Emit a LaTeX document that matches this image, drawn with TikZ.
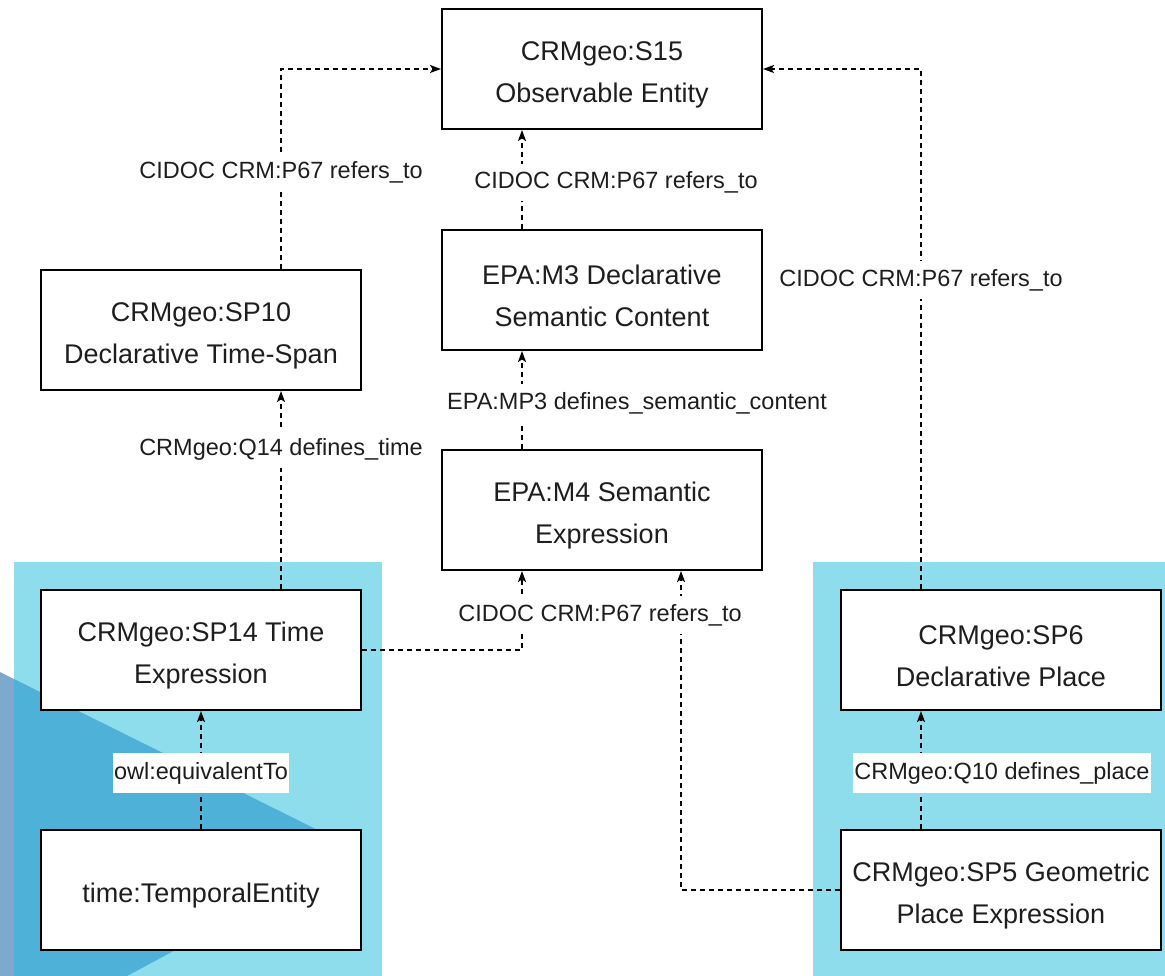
\documentclass[tikz,border=0pt]{standalone}
\usepackage{fontspec}
\setmainfont{Liberation Sans}
\usetikzlibrary{arrows.meta}
\definecolor{bglight}{HTML}{8EDDEC}
\definecolor{bgdark}{HTML}{4EB1D7}
\definecolor{bggrey}{HTML}{7DA9CF}
\definecolor{txt}{HTML}{1E1E1E}
\tikzset{
  cls/.style={draw=black, line width=2pt, fill=white, minimum width=320pt, minimum height=120pt,
    inner sep=0pt},
  clstext/.style={align=center, inner sep=0pt, text=txt, yshift=-6pt,
    font=\fontsize{27pt}{42pt}\selectfont},
  rel/.style={draw=black, line width=1.5pt, dash pattern=on 5pt off 4pt,
    -{Stealth[length=11pt,width=8pt,inset=2.5pt]}},
  lbl/.style={fill=white, text=txt, inner xsep=1pt, inner ysep=8pt, yshift=-3pt,
    font=\fontsize{23.5pt}{28pt}\selectfont, solid}
}
\begin{document}
\begin{tikzpicture}[x=1pt,y=-1pt]
\useasboundingbox (0,0) rectangle (1165,976);
% backgrounds
\fill[bggrey] (0,672) -- (14,679) -- (14,976) -- (0,976) -- cycle;
\fill[bglight] (14,562) rectangle (382,976);
\fill[bgdark] (14,679) -- (360,851) -- (127,976) -- (14,976) -- cycle;
\fill[bglight] (813,562) rectangle (1165,976);
% classes
\node[cls, label={[clstext]center:{CRMgeo:S15\\Observable Entity}}] (s15) at (602,69) {};
\node[cls, label={[clstext]center:{EPA:M3 Declarative\\Semantic Content}}] (m3) at (602,290) {};
\node[cls, label={[clstext]center:{CRMgeo:SP10\\Declarative Time-Span}}] (sp10) at (201,330) {};
\node[cls, label={[clstext]center:{EPA:M4 Semantic\\Expression}}] (m4) at (602,510) {};
\node[cls, label={[clstext]center:{CRMgeo:SP14 Time\\Expression}}] (sp14) at (201,650) {};
\node[cls, label={[clstext]center:{CRMgeo:SP6\\Declarative Place}}] (sp6) at (1001,650) {};
\node[cls, label={[clstext]center:{time:TemporalEntity}}] (te) at (201,890) {};
\node[cls, label={[clstext]center:{CRMgeo:SP5 Geometric\\Place Expression}}] (sp5) at (1001,890) {};
% relations
\draw[rel] (sp5.west) -| ([xshift=79pt]m4.south);
\draw[rel] (sp14.east) -| ([xshift=-80pt]m4.south)
  node[lbl, pos=0.74, xshift=78pt] {CIDOC CRM:P67 refers\_to};
\draw[rel] ([xshift=80pt]sp10.north) |- (s15.west)
  node[lbl, pos=0.25] {CIDOC CRM:P67 refers\_to};
\draw[rel] ([xshift=-80pt]m3.north) -- ([xshift=-80pt]s15.south)
  node[lbl, midway, xshift=94pt] {CIDOC CRM:P67 refers\_to};
\draw[rel] ([xshift=-80pt]sp6.north) |- (s15.east)
  node[lbl, pos=0.30] {CIDOC CRM:P67 refers\_to};
\draw[rel] ([xshift=-80pt]m4.north) -- ([xshift=-80pt]m3.south)
  node[lbl, midway, xshift=115pt] {EPA:MP3 defines\_semantic\_content};
\draw[rel] ([xshift=80pt]sp14.north) -- ([xshift=80pt]sp10.south)
  node[lbl, pos=0.72] {CRMgeo:Q14 defines\_time};
\draw[rel] (te.north) -- (sp14.south)
  node[lbl, midway, inner ysep=9pt] {owl:equivalentTo};
\draw[rel] ([xshift=-80pt]sp5.north) -- ([xshift=-80pt]sp6.south)
  node[lbl, midway, xshift=81pt, inner ysep=9pt] {CRMgeo:Q10 defines\_place};
\end{tikzpicture}
\end{document}
